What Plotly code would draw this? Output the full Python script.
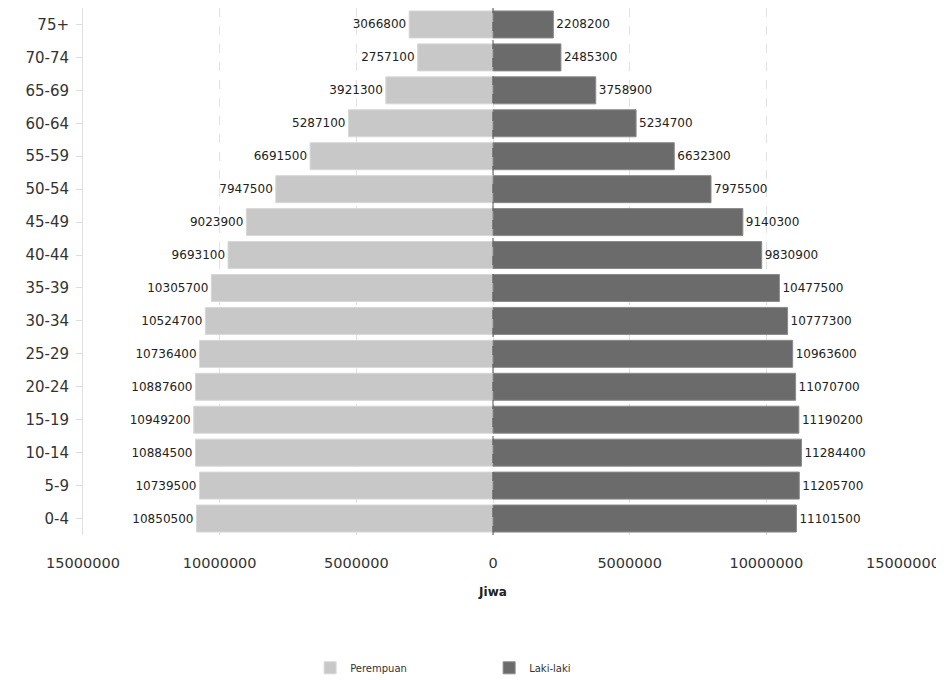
import plotly.graph_objects as go

age_groups = ["0-4", "5-9", "10-14", "15-19", "20-24", "25-29", "30-34", "35-39",
              "40-44", "45-49", "50-54", "55-59", "60-64", "65-69", "70-74", "75+"]
perempuan = [10850500, 10739500, 10884500, 10949200, 10887600, 10736400, 10524700, 10305700,
             9693100, 9023900, 7947500, 6691500, 5287100, 3921300, 2757100, 3066800]
laki_laki = [11101500, 11205700, 11284400, 11190200, 11070700, 10963600, 10777300, 10477500,
             9830900, 9140300, 7975500, 6632300, 5234700, 3758900, 2485300, 2208200]
tick_vals = [-15000000, -10000000, -5000000, 0, 5000000, 10000000, 15000000]
tick_text = ["15000000", "10000000", "5000000", "0", "5000000", "10000000", "15000000"]

fig = go.Figure()
fig.add_trace(go.Bar(
    y=age_groups, x=[-v for v in perempuan], orientation="h", name="Perempuan",
    marker=dict(color="#c8c8c8", line=dict(color="#d8d8d8", width=1)),
    text=[str(v) for v in perempuan], textposition="outside",
    textfont=dict(family="DejaVu Sans", size=12, color="#222222"),
    cliponaxis=False,
))
fig.add_trace(go.Bar(
    y=age_groups, x=laki_laki, orientation="h", name="Laki-laki",
    marker=dict(color="#6b6b6b", line=dict(color="#8a8a8a", width=1)),
    text=[str(v) for v in laki_laki], textposition="outside",
    textfont=dict(family="DejaVu Sans", size=12, color="#222222"),
    cliponaxis=False,
))

fig.add_shape(type="line", xref="x", yref="paper", x0=0, x1=0, y0=0, y1=1,
              line=dict(color="#555555", width=1, dash="dash"), layer="above")

fig.update_layout(
    width=936, height=690,
    margin=dict(l=75, r=41, t=0, b=163),
    paper_bgcolor="white", plot_bgcolor="white",
    barmode="overlay", bargap=0.18,
    font=dict(family="DejaVu Sans", color="#333333"),
    showlegend=True,
    legend=dict(orientation="h", x=0.277, xanchor="left", y=-0.252, yanchor="middle",
                font=dict(size=10, color="#333333"), entrywidth=134, entrywidthmode="pixels"),
    xaxis=dict(range=[-15000000, 15000000], tickvals=tick_vals, ticktext=tick_text,
               showgrid=True, gridcolor="#e2e2e2", griddash="dash", zeroline=False,
               tickfont=dict(size=14.5, color="#333333"), ticklabelstandoff=17,
               title=dict(text="<b>Jiwa</b>", font=dict(size=12, color="#222222"), standoff=18),
               showline=False, automargin=False),
    yaxis=dict(showline=True, linecolor="#e0e0e0", linewidth=1,
               ticks="outside", ticklen=6, tickcolor="#dddddd",
               tickfont=dict(size=15, color="#333333"), ticklabelstandoff=4,
               showgrid=False, zeroline=False, automargin=False),
)

fig.write_html("out.html")
